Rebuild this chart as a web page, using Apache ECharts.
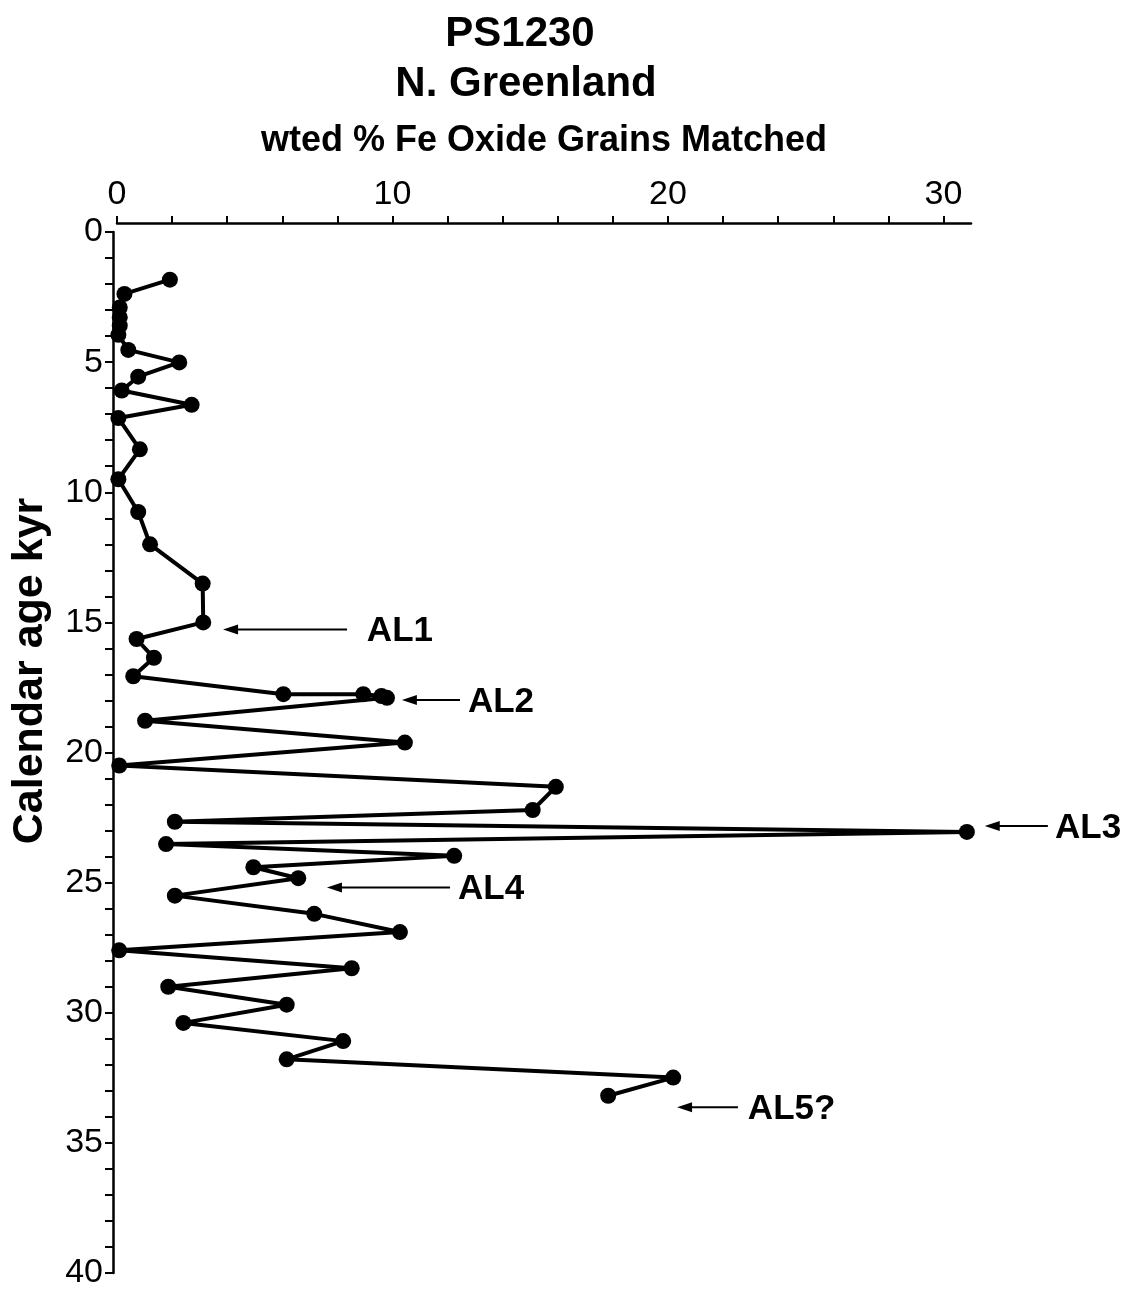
<!DOCTYPE html>
<html>
<head>
<meta charset="utf-8">
<script src="https://cdn.jsdelivr.net/npm/echarts@6/dist/echarts.min.js"></script>
<style>
html,body{margin:0;padding:0;background:#fff;}
#chart{width:1129px;height:1290px;}
</style>
</head>
<body>
<div id="chart"></div>
<script>
// ---- Data ----
const feOxidePct = [1.92, 0.27, 0.1, 0.1, 0.1, 0.05, 0.41, 2.26, 0.77, 0.17, 2.71, 0.05, 0.83, 0.05,
  0.77, 1.2, 3.11, 3.13, 0.71, 1.34, 0.59, 6.04, 8.94, 9.6, 9.8, 1.02, 10.45, 0.08,
  15.93, 15.09, 2.1, 30.85, 1.78, 12.24, 4.95, 6.58, 2.1, 7.16, 10.27, 0.08,
  8.52, 1.86, 6.16, 2.41, 8.21, 6.16, 20.19, 17.83];
const ageKyr = [1.83, 2.38, 2.9, 3.28, 3.6, 3.95, 4.53, 5.01, 5.56, 6.09, 6.64, 7.15, 8.35, 9.5,
  10.76, 12.0, 13.51, 15.0, 15.64, 16.36, 17.07, 17.76, 17.76, 17.83, 17.9, 18.78, 19.62, 20.5,
  21.32, 22.21, 22.66, 23.05, 23.52, 23.97, 24.41, 24.83, 25.5, 26.2, 26.9, 27.6,
  28.29, 29.0, 29.69, 30.39, 31.09, 31.79, 32.49, 33.19];

const xTickLabels = [0, 10, 20, 30];
const yTickLabels = [0, 5, 10, 15, 20, 25, 30, 35, 40];

// Annotations (data units): label, age, arrow tail x, arrow tip x, text x
const annoLabels = ['AL1', 'AL2', 'AL3', 'AL4', 'AL5?'];
const annoAge    = [15.27, 17.98, 22.82, 25.19, 33.63];
const annoTail   = [8.35, 12.45, 33.79, 12.09, 22.54];
const annoTip    = [3.85, 10.34, 31.5, 7.62, 20.33];
const annoTextX  = [9.07, 12.74, 34.05, 12.38, 22.9];

const FONT = "'Liberation Sans', Arial, Helvetica, sans-serif";
const xMinorTicks = [];
for (let v = 0; v <= 30; v += 2) xMinorTicks.push(v);

const seriesData = feOxidePct.map((v, i) => [v, ageKyr[i]]);

const chart = echarts.init(document.getElementById('chart'), null, {renderer: 'canvas'});
const option = {
  backgroundColor: '#fff',
  animation: false,
  title: [
    {text: 'PS1230', left: 515, top: 8, textAlign: 'center',
     textStyle: {fontFamily: FONT, fontSize: 42, fontWeight: 'bold', color: '#000'}},
    {text: 'N. Greenland', left: 521, top: 58, textAlign: 'center',
     textStyle: {fontFamily: FONT, fontSize: 42, fontWeight: 'bold', color: '#000'}}
  ],
  grid: {left: 117, top: 232, width: 854, height: 1048, containLabel: false},
  xAxis: {
    type: 'value', position: 'top', min: 0, max: 31, offset: 9,
    name: 'wted % Fe Oxide Grains Matched', nameLocation: 'middle', nameGap: 64,
    nameTextStyle: {fontFamily: FONT, fontSize: 36, fontWeight: 'bold', color: '#000'},
    axisLine: {show: true, onZero: false, lineStyle: {color: '#000', width: 2.5}},
    axisTick: {show: true, customValues: xMinorTicks, length: 7, inside: false, lineStyle: {color: '#000', width: 2}},
    axisLabel: {customValues: xTickLabels, fontFamily: FONT, fontSize: 34, color: '#000', margin: 11},
    splitLine: {show: false}
  },
  yAxis: {
    type: 'value', inverse: true, min: 0, max: 40, interval: 5, offset: 4,
    axisLine: {show: true, onZero: false, lineStyle: {color: '#000', width: 2.5}},
    axisTick: {show: true, length: 8, lineStyle: {color: '#000', width: 2}},
    minorTick: {show: true, splitNumber: 5, length: 8, lineStyle: {color: '#000', width: 2}},
    axisLabel: {fontFamily: FONT, fontSize: 34, color: '#000', margin: 10,
      customValues: yTickLabels},
    splitLine: {show: false}
  },
  series: [{
    type: 'line',
    data: seriesData,
    symbol: 'circle',
    symbolSize: 16,
    lineStyle: {color: '#000', width: 4},
    itemStyle: {color: '#000'},
    clip: false
  }]
};
chart.setOption(option);

// Build annotations through the chart's own scales
const graphics = [];
graphics.push({
  type: 'text', x: 30, y: 671, rotation: Math.PI / 2,
  style: {text: 'Calendar age kyr', fontFamily: FONT, fontSize: 43, fontWeight: 'bold',
          fill: '#000', textAlign: 'center', textVerticalAlign: 'middle'}
});
annoLabels.forEach((lab, i) => {
  const tail = chart.convertToPixel({gridIndex: 0}, [annoTail[i], annoAge[i]]);
  const tip = chart.convertToPixel({gridIndex: 0}, [annoTip[i], annoAge[i]]);
  const txt = chart.convertToPixel({gridIndex: 0}, [annoTextX[i], annoAge[i]]);
  const headLen = 15, headHalf = 5;
  graphics.push({
    type: 'line', shape: {x1: tail[0], y1: tail[1], x2: tip[0] + headLen - 2, y2: tip[1]},
    style: {stroke: '#000', lineWidth: 2}
  });
  graphics.push({
    type: 'polygon',
    shape: {points: [[tip[0], tip[1]], [tip[0] + headLen, tip[1] - headHalf], [tip[0] + headLen, tip[1] + headHalf]]},
    style: {fill: '#000'}
  });
  graphics.push({
    type: 'text', x: txt[0], y: txt[1] + 2,
    style: {text: lab, fontFamily: FONT, fontSize: 35, fontWeight: 'bold', fill: '#000',
            textAlign: 'left', textVerticalAlign: 'middle'}
  });
});
chart.setOption({graphic: graphics});
</script>
</body>
</html>
